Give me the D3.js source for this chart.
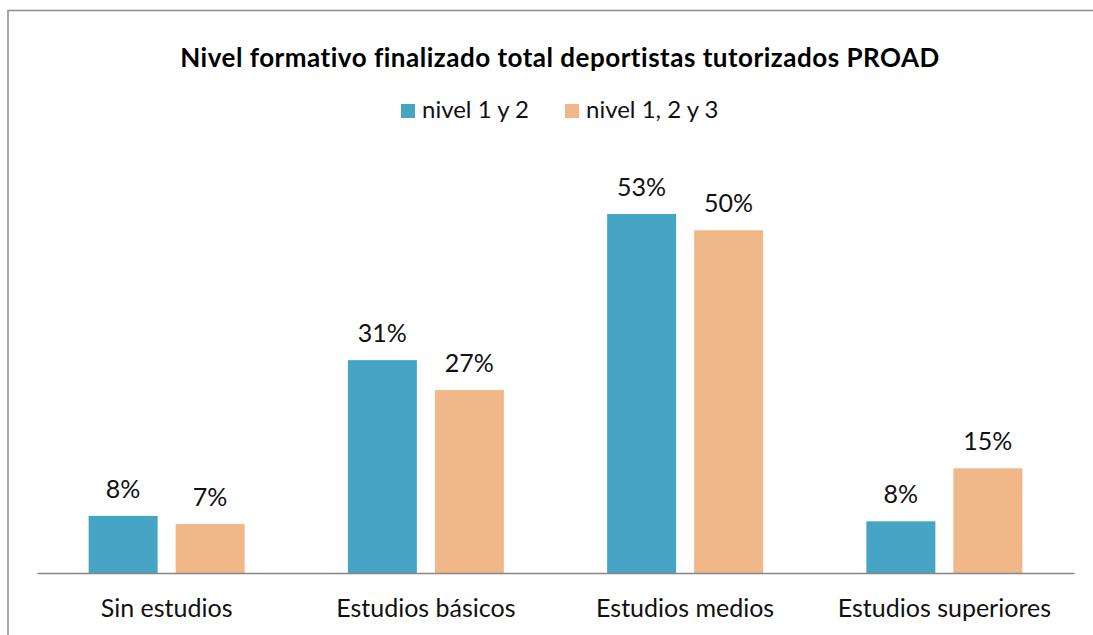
<!DOCTYPE html>
<html><head><meta charset="utf-8">
<script src="https://cdn.jsdelivr.net/npm/d3@7"></script>
<style>body{margin:0;background:#fff}svg{display:block}</style>
</head><body>
<script>
const categories = ["Sin estudios", "Estudios básicos", "Estudios medios", "Estudios superiores"];
const seriesNames = ["nivel 1 y 2", "nivel 1, 2 y 3"];
const nivel12 = [0.084, 0.313, 0.528, 0.076];
const nivel123 = [0.072, 0.269, 0.504, 0.154];
const colors = ["#46A5C5", "#F0B789"];
const title = "Nivel formativo finalizado total deportistas tutorizados PROAD";

const W = 1093, H = 635;
const FONT = "Lato, 'Open Sans', sans-serif";
const svg = d3.select("body").append("svg").attr("width", W).attr("height", H);
svg.append("rect").attr("width", W).attr("height", H).attr("fill", "#fff");
// chart border
svg.append("path").attr("d", `M8,${H+2} V10.5 H${W+2}`).attr("fill", "none").attr("stroke", "#8c8c8c").attr("stroke-width", 1.5);

const x0 = d3.scaleBand().domain(categories).range([37, 1074]);
const x1 = d3.scaleBand().domain([0, 1]).range([0, 156]).paddingInner(0.207);
const y = d3.scaleLinear().domain([0, 0.6]).range([573, 165]);

const data = categories.map((c, i) => ({c, vals: [nivel12[i], nivel123[i]]}));
const g = svg.append("g");
const groups = g.selectAll("g.cat").data(data).join("g")
  .attr("transform", d => `translate(${x0(d.c) + x0.bandwidth()/2 - 78},0)`);
groups.selectAll("rect").data(d => d.vals.map((v, k) => ({v, k}))).join("rect")
  .attr("x", d => x1(d.k)).attr("width", x1.bandwidth())
  .attr("y", d => y(d.v)).attr("height", d => y(0) - y(d.v))
  .attr("fill", d => colors[d.k]);
groups.selectAll("text").data(d => d.vals.map((v, k) => ({v, k}))).join("text")
  .attr("x", d => x1(d.k) + x1.bandwidth()/2).attr("y", d => y(d.v) - 18)
  .attr("text-anchor", "middle").attr("font-family", FONT).attr("font-size", 25).attr("fill", "#111")
  .text(d => d3.format(".0%")(d.v));

// axis
const xAxis = d3.axisBottom(x0).tickSize(0).tickPadding(26);
const ax = svg.append("g").attr("transform", "translate(0,573)").call(xAxis);
ax.select(".domain").attr("stroke", "#868686").attr("stroke-width", 1.5);
ax.selectAll("text").attr("font-family", FONT).attr("font-size", 25).attr("fill", "#111").attr("dy", "0.71em");

// title
svg.append("text").attr("x", 560).attr("y", 67).attr("text-anchor", "middle")
  .attr("font-family", FONT).attr("font-weight", "bold").attr("font-size", 26)
  .attr("letter-spacing", 0.5).attr("fill", "#000").text(title);

// legend
const lx = [401, 565];
const leg = svg.append("g");
seriesNames.forEach((n, i) => {
  leg.append("rect").attr("x", lx[i]).attr("y", 104).attr("width", 14).attr("height", 14).attr("fill", colors[i]);
  leg.append("text").attr("x", lx[i] + 21).attr("y", 118).attr("font-family", FONT).attr("font-size", 24).attr("fill", "#111").text(n);
});
</script>
</body></html>
